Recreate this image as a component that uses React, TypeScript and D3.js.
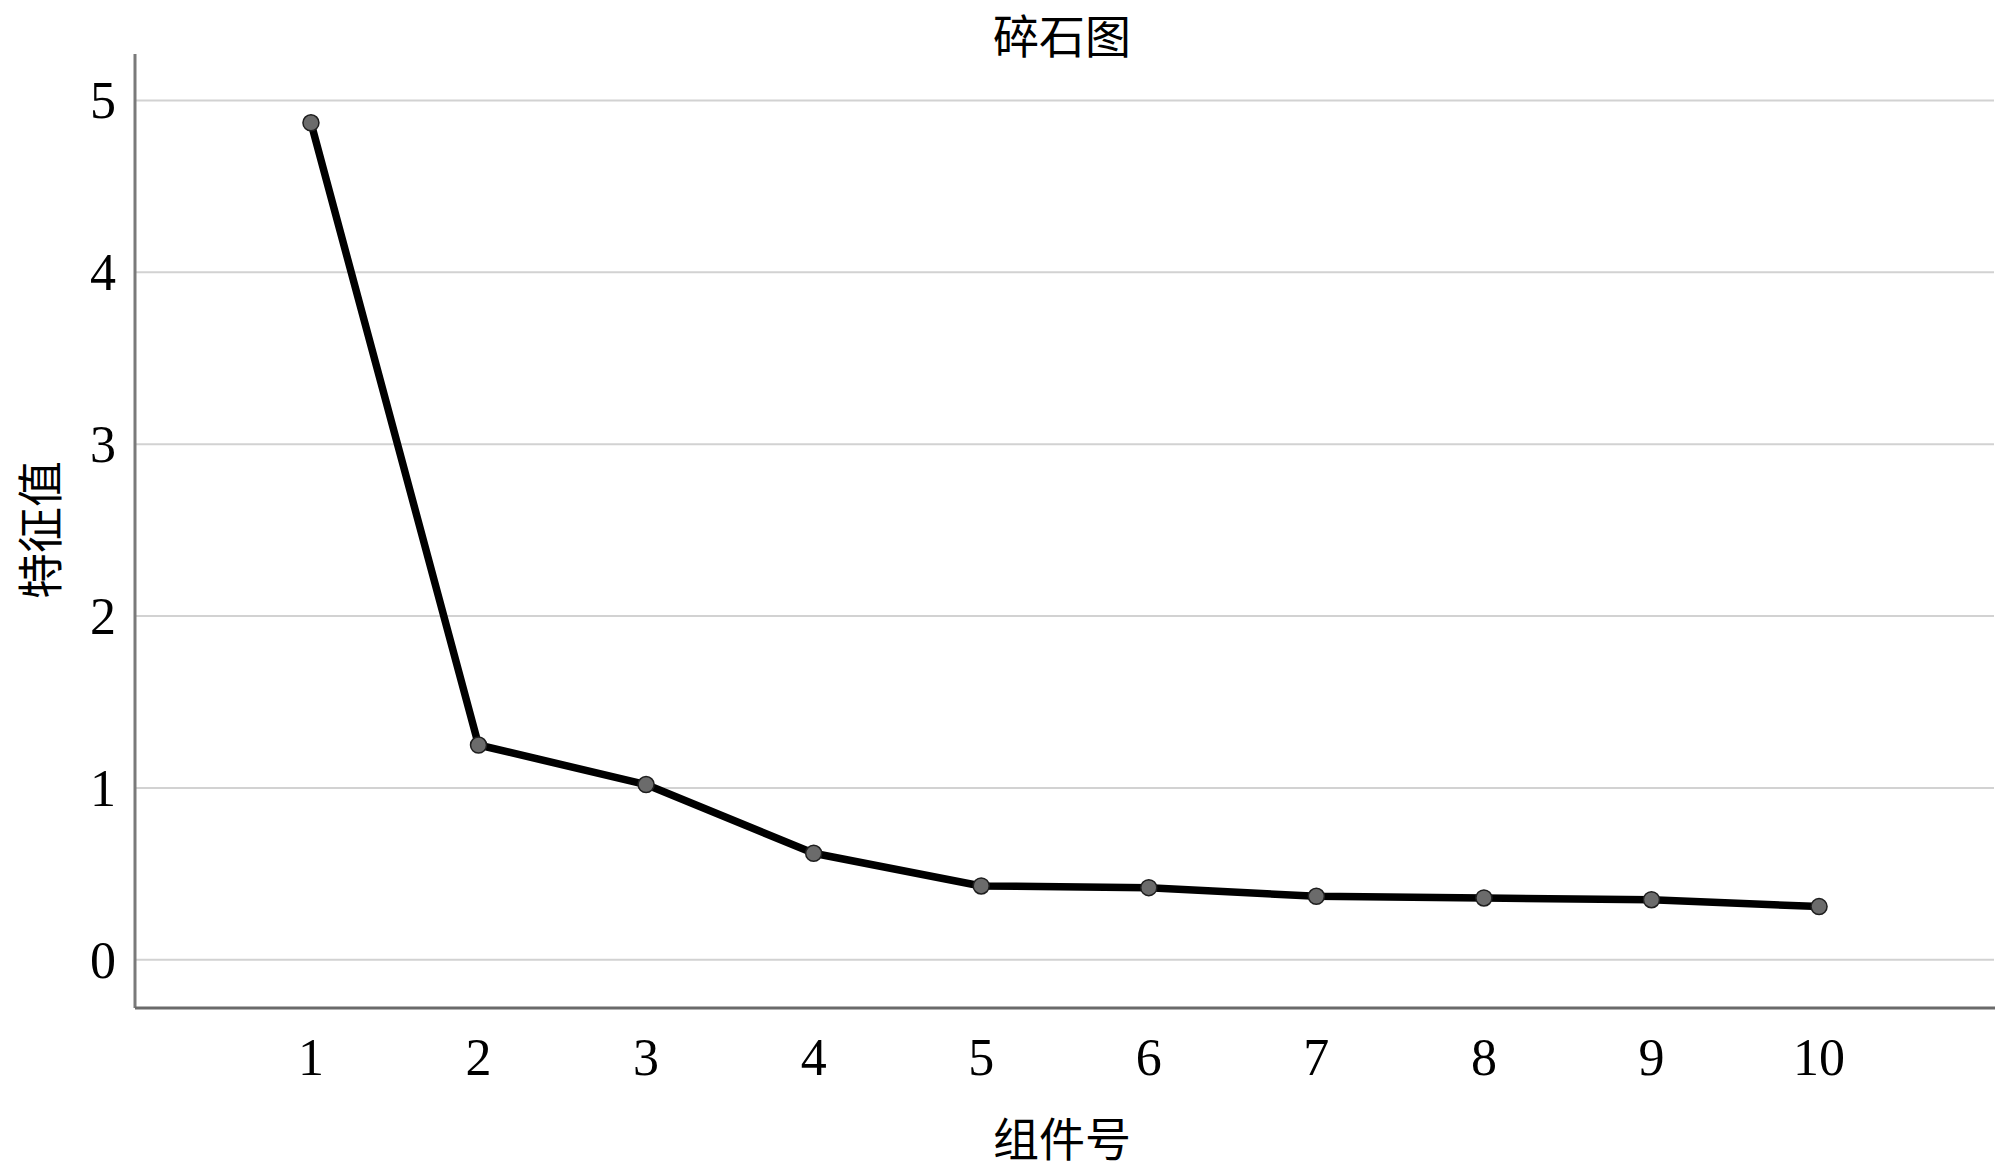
import * as d3 from 'd3';
import React, { useEffect, useRef } from "react";

const components = ['1', '2', '3', '4', '5', '6', '7', '8', '9', '10'];
const eigenvalues = [4.87, 1.25, 1.02, 0.62, 0.43, 0.42, 0.37, 0.36, 0.35, 0.31];
const yTicks = [0, 1, 2, 3, 4, 5];

const svgWidth = 2000;
const svgHeight = 1175;
const margin = { left: 135, right: 5, top: 54, bottom: 167 };

const App = () => {
    const chartRef = useRef<SVGSVGElement | null>(null);

    useEffect(() => {
        const svg = d3.select(chartRef.current);
        svg.selectAll('*').remove();

        const x = d3.scalePoint<string>()
            .domain(components)
            .range([margin.left, svgWidth - margin.right])
            .padding(1.05);
        const y = d3.scaleLinear()
            .domain([-0.28, 5.27])
            .range([svgHeight - margin.bottom, margin.top]);

        const serif = '"Liberation Serif", "Times New Roman", serif';
        const cjk = '"Noto Sans CJK SC", sans-serif';

        // grid lines
        svg.append('g').selectAll('line').data(yTicks).enter().append('line')
            .attr('x1', margin.left)
            .attr('x2', svgWidth - 6)
            .attr('y1', d => y(d))
            .attr('y2', d => y(d))
            .attr('stroke', '#d2d2d2')
            .attr('stroke-width', 2);

        // y tick labels
        svg.append('g').selectAll('text').data(yTicks).enter().append('text')
            .attr('x', 116)
            .attr('y', d => y(d))
            .attr('dy', '0.34em')
            .attr('text-anchor', 'end')
            .attr('font-family', serif)
            .attr('font-size', 52)
            .text(d => d);

        // x tick labels
        svg.append('g').selectAll('text').data(components).enter().append('text')
            .attr('x', d => x(d)!)
            .attr('y', 1075)
            .attr('text-anchor', 'middle')
            .attr('font-family', serif)
            .attr('font-size', 52)
            .text(d => d);

        // axes spines
        svg.append('line')
            .attr('x1', margin.left).attr('x2', margin.left)
            .attr('y1', margin.top).attr('y2', svgHeight - margin.bottom)
            .attr('stroke', '#7a7a7a').attr('stroke-width', 3);
        svg.append('line')
            .attr('x1', margin.left).attr('x2', svgWidth - margin.right)
            .attr('y1', svgHeight - margin.bottom).attr('y2', svgHeight - margin.bottom)
            .attr('stroke', '#6a6a6a').attr('stroke-width', 3);

        const line = d3.line<number>()
            .x((d, i) => x(components[i])!)
            .y(d => y(d));

        svg.append('path')
            .datum(eigenvalues)
            .attr('fill', 'none')
            .attr('stroke', '#000')
            .attr('stroke-width', 7.5)
            .attr('stroke-linejoin', 'round')
            .attr('d', line);

        svg.append('g').selectAll('circle').data(eigenvalues).enter().append('circle')
            .attr('cx', (d, i) => x(components[i])!)
            .attr('cy', d => y(d))
            .attr('r', 8)
            .attr('fill', '#6b6b6b')
            .attr('stroke', '#1e1e1e')
            .attr('stroke-width', 1.5);

        // title
        svg.append('text')
            .attr('x', 1062)
            .attr('y', 53)
            .attr('text-anchor', 'middle')
            .attr('font-family', cjk)
            .attr('font-size', 46)
            .text('碎石图');

        // x label
        svg.append('text')
            .attr('x', 1062)
            .attr('y', 1156)
            .attr('text-anchor', 'middle')
            .attr('font-family', cjk)
            .attr('font-size', 46)
            .text('组件号');

        // y label
        svg.append('text')
            .attr('transform', 'translate(57,530) rotate(-90)')
            .attr('text-anchor', 'middle')
            .attr('font-family', cjk)
            .attr('font-size', 46)
            .text('特征值');
    }, []);

    return (
        <svg ref={chartRef} width={svgWidth} height={svgHeight}
            style={{ position: 'absolute', left: 0, top: 0, background: '#fff' }} />
    );
};

export default App;
